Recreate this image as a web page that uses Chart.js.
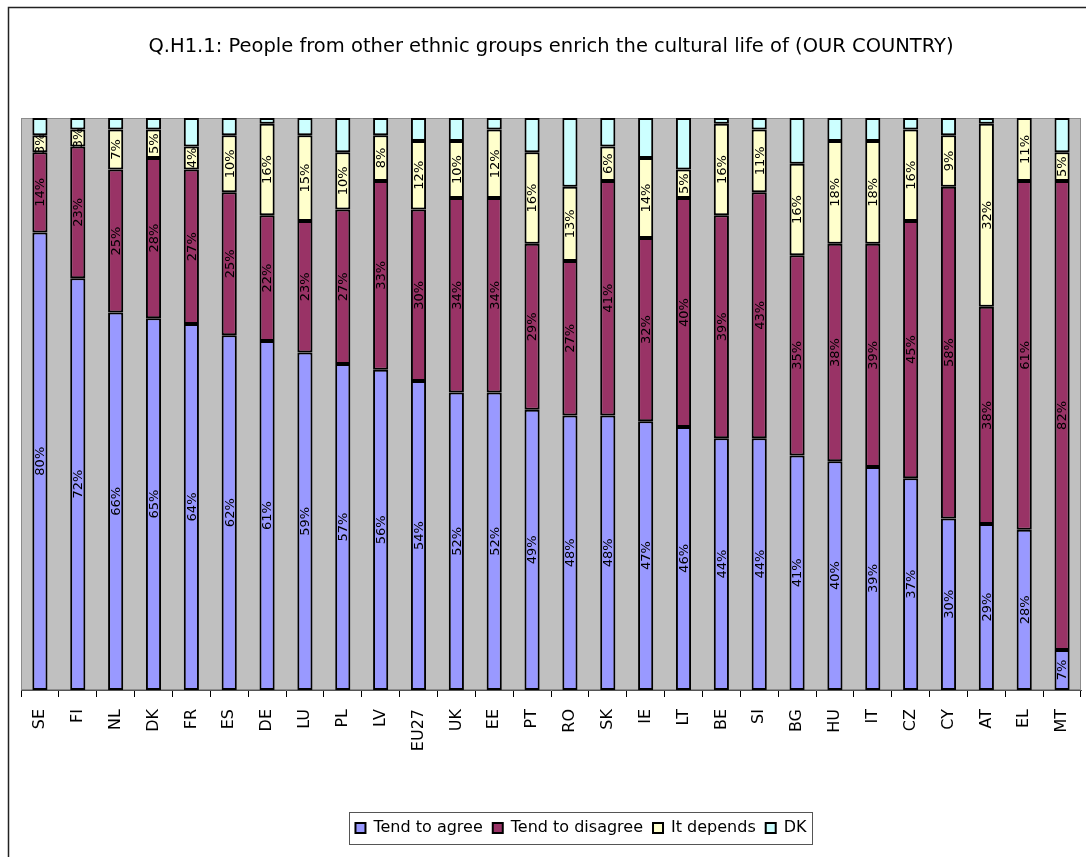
<!DOCTYPE html>
<html>
<head>
<meta charset="utf-8">
<script src="https://cdn.jsdelivr.net/npm/chart.js@4.4.1/dist/chart.umd.min.js"></script>
<style>
  body { margin: 0; background: #fff; }
  #wrap { width: 1086px; height: 857px; }
</style>
</head>
<body>
<div id="wrap"><canvas id="chart" width="1086" height="857"></canvas></div>
<script>
const countries = ["SE","FI","NL","DK","FR","ES","DE","LU","PL","LV","EU27","UK","EE","PT","RO","SK","IE","LT","BE","SI","BG","HU","IT","CZ","CY","AT","EL","MT"];
const agree     = [80,72,66,65,64,62,61,59,57,56,54,52,52,49,48,48,47,46,44,44,41,40,39,37,30,29,28,7];
const disagree  = [14,23,25,28,27,25,22,23,27,33,30,34,34,29,27,41,32,40,39,43,35,38,39,45,58,38,61,82];
const depends   = [3,3,7,5,4,10,16,15,10,8,12,10,12,16,13,6,14,5,16,11,16,18,18,16,9,32,11,5];
const dk        = [3,2,2,2,5,3,1,3,6,3,4,4,2,6,12,5,7,9,1,2,8,4,4,2,3,1,0,6];

const FONT = "DejaVu Sans";

// gray plot area + outer frame
const backdrop = {
  id: "backdrop",
  afterUpdate(chart) {
    // legend sits a little right of centre in the original
    const lg = chart.legend;
    if (!lg) return;
    lg.left += 30;
    lg.right += 30;
    lg.adjustHitBoxes();
  },
  beforeDraw(chart) {
    const { ctx, chartArea: a } = chart;
    ctx.save();
    ctx.strokeStyle = "#222";
    ctx.lineWidth = 1.5;
    ctx.strokeRect(8.5, 7.5, 1200, 1200);
    ctx.fillStyle = "#C0C0C0";
    ctx.fillRect(a.left, a.top, a.right - a.left, a.bottom - a.top);
    ctx.strokeStyle = "#8c8c8c";
    ctx.lineWidth = 1;
    ctx.strokeRect(a.left + 0.5, a.top + 0.5, a.right - a.left - 1, a.bottom - a.top - 1);
    ctx.restore();
  },
  afterDraw(chart) {
    // box around legend
    const lg = chart.legend;
    if (!lg || !lg.legendHitBoxes.length) return;
    const boxes = lg.legendHitBoxes;
    const left = Math.min(...boxes.map(b => b.left)) - 6;
    const right = Math.max(...boxes.map(b => b.left + b.width)) + 6;
    const { ctx } = chart;
    ctx.save();
    ctx.strokeStyle = "#555";
    ctx.lineWidth = 1;
    ctx.strokeRect(Math.round(left) + 0.5, Math.round(lg.top) + 2.5, Math.round(right - left), 32);
    ctx.restore();
  }
};

// vertical value labels inside segments
const segLabels = {
  id: "segLabels",
  afterDatasetsDraw(chart) {
    const { ctx } = chart;
    ctx.save();
    ctx.font = "13px '" + FONT + "'";
    ctx.fillStyle = "#000";
    ctx.textAlign = "center";
    ctx.textBaseline = "middle";
    [0, 1, 2].forEach(di => {
      const meta = chart.getDatasetMeta(di);
      const vals = chart.data.datasets[di].data;
      meta.data.forEach((bar, i) => {
        const { x, y, base } = bar.getProps(["x", "y", "base"], true);
        ctx.save();
        ctx.translate(x + 1, (y + base) / 2);
        ctx.rotate(-Math.PI / 2);
        ctx.fillText(vals[i] + "%", 0, 0);
        ctx.restore();
      });
    });
    ctx.restore();
  }
};

const mk = (label, data, color) => ({
  label, data,
  backgroundColor: color,
  borderColor: "#000",
  borderWidth: 2,
  borderSkipped: false,
  categoryPercentage: 1,
  barPercentage: 0.4
});

new Chart(document.getElementById("chart"), {
  type: "bar",
  data: {
    labels: countries,
    datasets: [
      mk("Tend to agree", agree, "#9999FF"),
      mk("Tend to disagree", disagree, "#993366"),
      mk("It depends", depends, "#FFFFCC"),
      mk("DK", dk, "#CCFFFF")
    ]
  },
  options: {
    responsive: false,
    animation: false,
    layout: { padding: { left: 21, right: 5, top: 0, bottom: 11 } },
    plugins: {
      title: {
        display: true,
        text: "Q.H1.1: People from other ethnic groups enrich the cultural life of (OUR COUNTRY)",
        color: "#000",
        font: { family: FONT, size: 19.5, weight: "normal" },
        padding: { top: 35, bottom: 59.6 }
      },
      legend: {
        position: "bottom",
        labels: {
          color: "#000",
          font: { family: FONT, size: 16 },
          boxWidth: 10,
          boxHeight: 10,
          padding: 10
        }
      },
      tooltip: { enabled: false }
    },
    scales: {
      x: {
        stacked: true,
        grid: { drawOnChartArea: false, drawTicks: true, tickLength: 7, color: "#000", offset: true },
        border: { color: "#555", width: 1 },
        ticks: {
          color: "#000",
          font: { family: FONT, size: 16 },
          maxRotation: 90, minRotation: 90,
          autoSkip: false,
          padding: 12
        },
        afterFit(scale) {
          scale.height = 120;
          scale.paddingLeft = 0;
          scale.paddingRight = 0;
        }
      },
      y: {
        stacked: true,
        display: false,
        min: 0, max: 100
      }
    }
  },
  plugins: [backdrop, segLabels]
});
</script>
</body>
</html>
